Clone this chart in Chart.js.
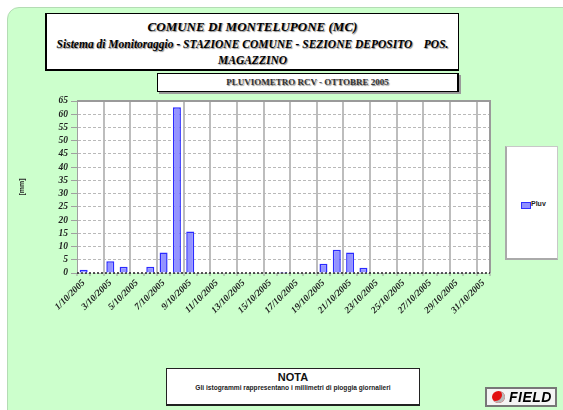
<!DOCTYPE html>
<html>
<head>
<meta charset="utf-8">
<script src="https://cdn.jsdelivr.net/npm/chart.js@4"></script>
<style>
  body { margin: 0; background: #fff; }
  #wrap { position: relative; width: 563px; height: 410px; overflow: hidden; font-family: 'Liberation Serif', serif; }
  #panel { position: absolute; left: 7px; top: 7px; width: 580px; height: 430px; background: #ccffcc; border: 1px solid #b4dcb4; border-radius: 12px; }
  .box { position: absolute; background: #fff; box-sizing: border-box; }
  .line { position: absolute; left: 0; right: 0; text-align: center; white-space: pre; color: #000; text-shadow: 1px 1px 1px #8a8a8a; }
  #head { left: 45px; top: 13px; width: 414px; height: 58px; border: 1px solid #000; border-left-width: 2px; border-bottom-width: 2px; }
  #head .l1 { top: 5px; font: italic bold 13px 'Liberation Serif', serif; }
  #head .l2 { top: 24px; font: italic bold 11.5px 'Liberation Serif', serif; }
  #head .l3 { top: 40px; font: italic bold 11.5px 'Liberation Serif', serif; }
  #sub { left: 157px; top: 73px; width: 302px; height: 19px; border: 1px solid #000; border-right-width: 2px; box-shadow: 2px 2px 0 #9a9a9a; }
  #sub .line { top: 3px; font: bold 9px 'Liberation Serif', serif; color: #333; }
  #legend { left: 505px; top: 146px; width: 53px; height: 114px; border: 1px solid #c8c8c8; border-left: 2px solid #aaa; border-bottom: 2px solid #aaa; }
  #legend .sw { position: absolute; left: 14px; top: 55px; width: 8px; height: 5px; background: #9090ff; border: 1px solid #3030ff; }
  #legend .tx { position: absolute; left: 24px; top: 53px; font: bold 7px 'Liberation Sans', sans-serif; color: #222; }
  #nota { left: 166px; top: 368px; width: 254px; height: 38px; border: 1px solid #222; border-bottom-width: 2px; font-family: 'Liberation Sans', sans-serif; }
  #nota .n1 { position: absolute; left: 0; right: 0; top: 2px; text-align: center; font: bold 11px 'Liberation Sans', sans-serif; color: #111; }
  #nota .n2 { position: absolute; left: 0; right: 0; top: 15px; text-align: center; font: bold 6.6px 'Liberation Sans', sans-serif; color: #222; white-space: nowrap; }
  #logo { left: 485px; top: 387px; width: 72px; height: 20px; border: 2px solid #777; background: #f4f4f4; }
  #logo .mark { position: absolute; left: 5px; top: 2px; width: 13px; height: 12px; border-radius: 50%; background: #e21010; box-shadow: inset -3px -2px 0 #b9b9b9; }
  #logo .word { position: absolute; left: 22px; top: 0px; font: italic bold 14px 'Liberation Sans', sans-serif; color: #000; letter-spacing: 0.5px; }
  #c { position: absolute; left: 0; top: 0; }
</style>
</head>
<body>
<div id="wrap">
  <div id="panel"></div>
  <div class="box" id="head">
    <div class="line l1">COMUNE DI MONTELUPONE (MC)</div>
    <div class="line l2">Sistema di Monitoraggio - STAZIONE COMUNE - SEZIONE DEPOSITO    POS.</div>
    <div class="line l3">MAGAZZINO</div>
  </div>
  <div class="box" id="sub"><div class="line">PLUVIOMETRO RCV - OTTOBRE 2005</div></div>
  <canvas id="c" width="563" height="410"></canvas>
  <div class="box" id="legend"><div class="sw"></div><div class="tx" id="legText"></div></div>
  <div class="box" id="nota">
    <div class="n1">NOTA</div>
    <div class="n2">Gli istogrammi rappresentano i millimetri di pioggia giornalieri</div>
  </div>
  <div class="box" id="logo"><div class="mark"></div><div class="word">FIELD</div></div>
</div>
<script>
const seriesName = 'Pluv';

const days = [
  '1/10/2005', '2/10/2005', '3/10/2005', '4/10/2005', '5/10/2005', '6/10/2005',
  '7/10/2005', '8/10/2005', '9/10/2005', '10/10/2005', '11/10/2005', '12/10/2005',
  '13/10/2005', '14/10/2005', '15/10/2005', '16/10/2005', '17/10/2005', '18/10/2005',
  '19/10/2005', '20/10/2005', '21/10/2005', '22/10/2005', '23/10/2005', '24/10/2005',
  '25/10/2005', '26/10/2005', '27/10/2005', '28/10/2005', '29/10/2005', '30/10/2005',
  '31/10/2005',
];

// daily rain, mm
const rain = [
  1.2, 0, 4.4, 2.4, 0, 2.4, 7.7, 62.6, 15.7, 0,
  0, 0, 0, 0, 0, 0.4, 0, 0, 3.5, 8.8,
  7.7, 2.0, 0, 0, 0, 0, 0.3, 0.3, 0.3, 0.3,
  0,
];

const yMin = 0;
const yMax = 65;
const yStep = 5;

document.getElementById('legText').textContent = seriesName;

const tickFont = {
  family: "'Liberation Serif', serif",
  size: 9.5,
  style: 'italic',
  weight: 'bold',
  lineHeight: 1,
};

// gray frame on top/right and a dotted dark base line
const plotFrame = {
  id: 'plotFrame',
  beforeDraw(chart) {
    const { ctx, chartArea: a } = chart;
    ctx.save();
    ctx.fillStyle = '#ffffff';
    ctx.fillRect(a.left, a.top, a.right - a.left, a.bottom - a.top);
    ctx.restore();
  },
  beforeDatasetsDraw(chart) {
    const { ctx, chartArea: a } = chart;
    ctx.save();
    ctx.strokeStyle = '#9a9a9a';
    ctx.lineWidth = 2;
    ctx.beginPath();
    ctx.moveTo(a.left, a.top);
    ctx.lineTo(a.right, a.top);
    ctx.lineTo(a.right, a.bottom);
    ctx.stroke();
    ctx.strokeStyle = '#222';
    ctx.lineWidth = 1.5;
    ctx.setLineDash([2, 2]);
    ctx.beginPath();
    ctx.moveTo(a.left, a.bottom);
    ctx.lineTo(a.right, a.bottom);
    ctx.stroke();
    ctx.restore();
  },
};

const ctx = document.getElementById('c').getContext('2d');
const rainChart = new Chart(ctx, {
  type: 'bar',
  data: {
    labels: days,
    datasets: [
      {
        label: seriesName,
        data: rain,
        backgroundColor: '#9393ff',
        borderColor: '#2a2aff',
        borderWidth: 1.5,
        borderSkipped: 'bottom',
        categoryPercentage: 1,
        barPercentage: 0.6,
      },
    ],
  },
  options: {
    responsive: false,
    animation: false,
    devicePixelRatio: 1,
    layout: {
      padding: { top: 101, left: 10, right: 73, bottom: 77 },
    },
    scales: {
      x: {
        offset: true,
        afterFit(scale) { scale.height = 60; },
        grid: {
          offset: true,
          lineWidth: 2,
          color: (c) => (c.index % 2 === 0 && c.index > 0 ? '#bdbdbd' : 'rgba(0,0,0,0)'),
          tickColor: '#9a9a9a',
          tickLength: 3,
          tickWidth: 1,
        },
        border: { display: false },
        ticks: {
          autoSkip: false,
          minRotation: 45,
          maxRotation: 45,
          padding: 2,
          color: '#222',
          font: tickFont,
          callback: (v, i) => (i % 2 === 0 ? days[i] : ''),
        },
      },
      y: {
        min: yMin,
        max: yMax,
        afterFit(scale) { scale.width = 67; },
        title: {
          display: true,
          text: '[mm]',
          padding: { top: 8, bottom: 0 },
          color: '#222',
          font: { family: "'Liberation Sans', sans-serif", size: 7, weight: 'bold' },
        },
        grid: {
          color: '#b9b9b9',
          lineWidth: 1,
          tickColor: '#a0a0a0',
          tickLength: 6,
          tickBorderDash: [],
        },
        border: { display: true, color: '#a0a0a0', width: 1, dash: [3, 2] },
        ticks: {
          stepSize: yStep,
          autoSkip: false,
          padding: 3,
          color: '#222',
          font: tickFont,
        },
      },
    },
    plugins: {
      legend: { display: false },
      tooltip: { enabled: false },
    },
  },
  plugins: [plotFrame],
});
</script>
</body>
</html>
